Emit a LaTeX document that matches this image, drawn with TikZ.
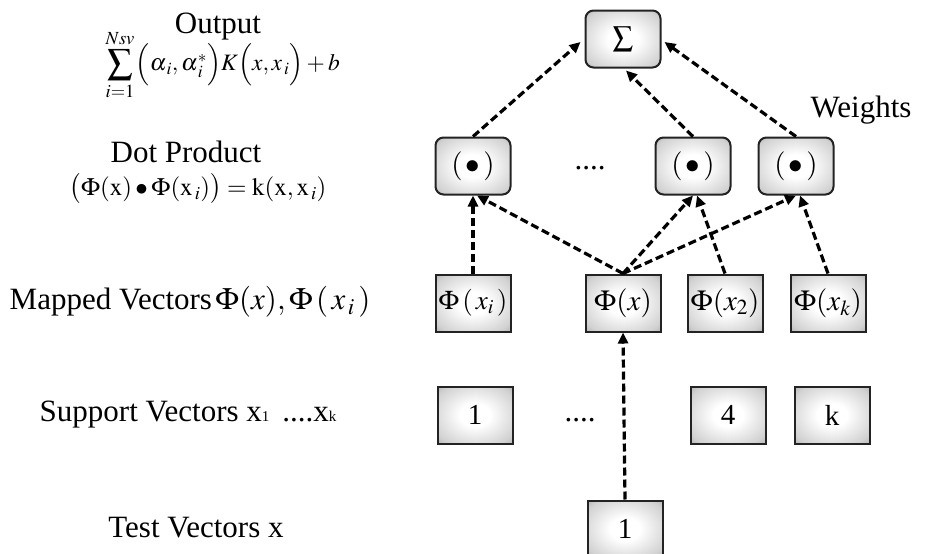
\documentclass[tikz,border=0pt]{standalone}
\usepackage{mathptmx}
\usepackage[no-math]{fontspec}
\setmainfont{Liberation Serif}
\usepackage{tikz}
\usetikzlibrary{arrows.meta,positioning}
\definecolor{boxline}{RGB}{35,35,35}
\pgfdeclareradialshading{boxshade}{\pgfpoint{0bp}{0bp}}{%
  color(0bp)=(white); color(10bp)=(white); color(30bp)=(black!18);
  color(44bp)=(black!45); color(50bp)=(black!60); color(75bp)=(black!70)}
\tikzset{
	shadebox/.style={
		rectangle,
		draw=boxline,
		line width=2pt,
		shading=boxshade,
		minimum width=75pt,
		minimum height=57pt,
		inner sep=1pt,
		font=\fontsize{29}{32}\selectfont
	},
	roundbox/.style={
		shadebox,
		rounded corners=8pt
	},
	lbltext/.style={
		align=center,
		inner sep=0pt,
		font=\fontsize{31}{34}\selectfont
	},
	link/.style={-{Triangle[length=11pt,width=10pt]},line width=3.2pt,dash pattern=on 8pt off 4pt}
}

\begin{document}
\begin{tikzpicture}[x=1pt,y=-1pt]
		\useasboundingbox (0,0) rectangle (935,554);
		% boxes
		\node[roundbox] (sum) at (623,39) {$\sum$};
		\node[roundbox] (dot1) at (473,166) {$(\,\bullet\,)$};
		\node[roundbox] (dot2) at (693,166) {$(\,\bullet\,)$};
		\node[roundbox] (dot3) at (796,166) {$(\,\bullet\,)$};
		\node[shadebox,font=\fontsize{27}{30}\selectfont] (mapi) at (473,303) {$\Phi\,(\,x_{i}\,)$};
		\node[shadebox] (mapx) at (623,303) {$\Phi(x)$};
		\node[shadebox] (map2) at (725,303) {$\Phi(x_2)$};
		\node[shadebox] (mapk) at (828,303) {$\Phi(x_k)$};
		\node[shadebox] (sv1) at (475,415) {1};
		\node[shadebox] (sv4) at (728,415) {4};
		\node[shadebox] (svk) at (832,415) {k};
		\node[shadebox] (test) at (625,529) {1};
		\node[lbltext] (dotsdot) at (590,168) {....};
		\node[lbltext] (dotssv) at (580,420) {....};
		\node[lbltext] (weights) at (861,110) {Weights};

		% labels on the left
		\node[lbltext] (output) at (218,27) {Output};
		\node[lbltext,font=\fontsize{25}{28}\selectfont] (outsum) at (120,65)
			{$\displaystyle\sum_{i=1}^{Nsv}$};
		\node[lbltext,font=\fontsize{23.5}{26}\selectfont,right=1pt of outsum] (outbody)
			{$\Bigl(\alpha_{\,i},\alpha_{\,i}^{*}\Bigr)K\Bigl(x,x_{\,i}\Bigr)+b$};
		\node[lbltext] (dotlabel) at (186,152) {Dot Product};
		\node[lbltext,font=\fontsize{25}{28}\selectfont] (dotformula) at (198,189)
			{$\bigl(\Phi(\mathrm{x})\bullet\Phi(\mathrm{x}_{\,i})\bigr)=\mathrm{k}(\mathrm{x},\mathrm{x}_{\,i})$};
		\node[lbltext] (mappedlabel) at (190,302) {Mapped Vectors$\,\Phi(x),\Phi\,(\,x_{\,i}\,)$};
		\node[lbltext] (supportlabel) at (188,415)
			{Support Vectors x{\fontsize{15}{15}\selectfont 1} \,....x{\fontsize{15}{15}\selectfont k}};
		\node[lbltext] (testlabel) at (196,528) {Test Vectors x};

		% connectors
		\draw[link] (dot1.north) -- ([xshift=-4pt,yshift=-3pt]sum.west);
		\draw[link] (dot2.north) -- ([xshift=3pt,yshift=-2pt]sum.south);
		\draw[link] (dot3.north) -- ([xshift=3pt,yshift=-3pt]sum.east);
		\draw[link] (mapi.north) -- (dot1.south);
		\draw[link] (mapx.north) -- ([xshift=4pt]dot1.south);
		\draw[link] (mapx.north) -- (dot2.south);
		\draw[link] (mapx.north) -- (dot3.south);
		\draw[link] (map2.north) -- ([xshift=4pt]dot2.south);
		\draw[link] (mapk.north) -- ([xshift=4pt]dot3.south);
		\draw[link] (test.north) -- (mapx.south);
	\end{tikzpicture}
\end{document}
